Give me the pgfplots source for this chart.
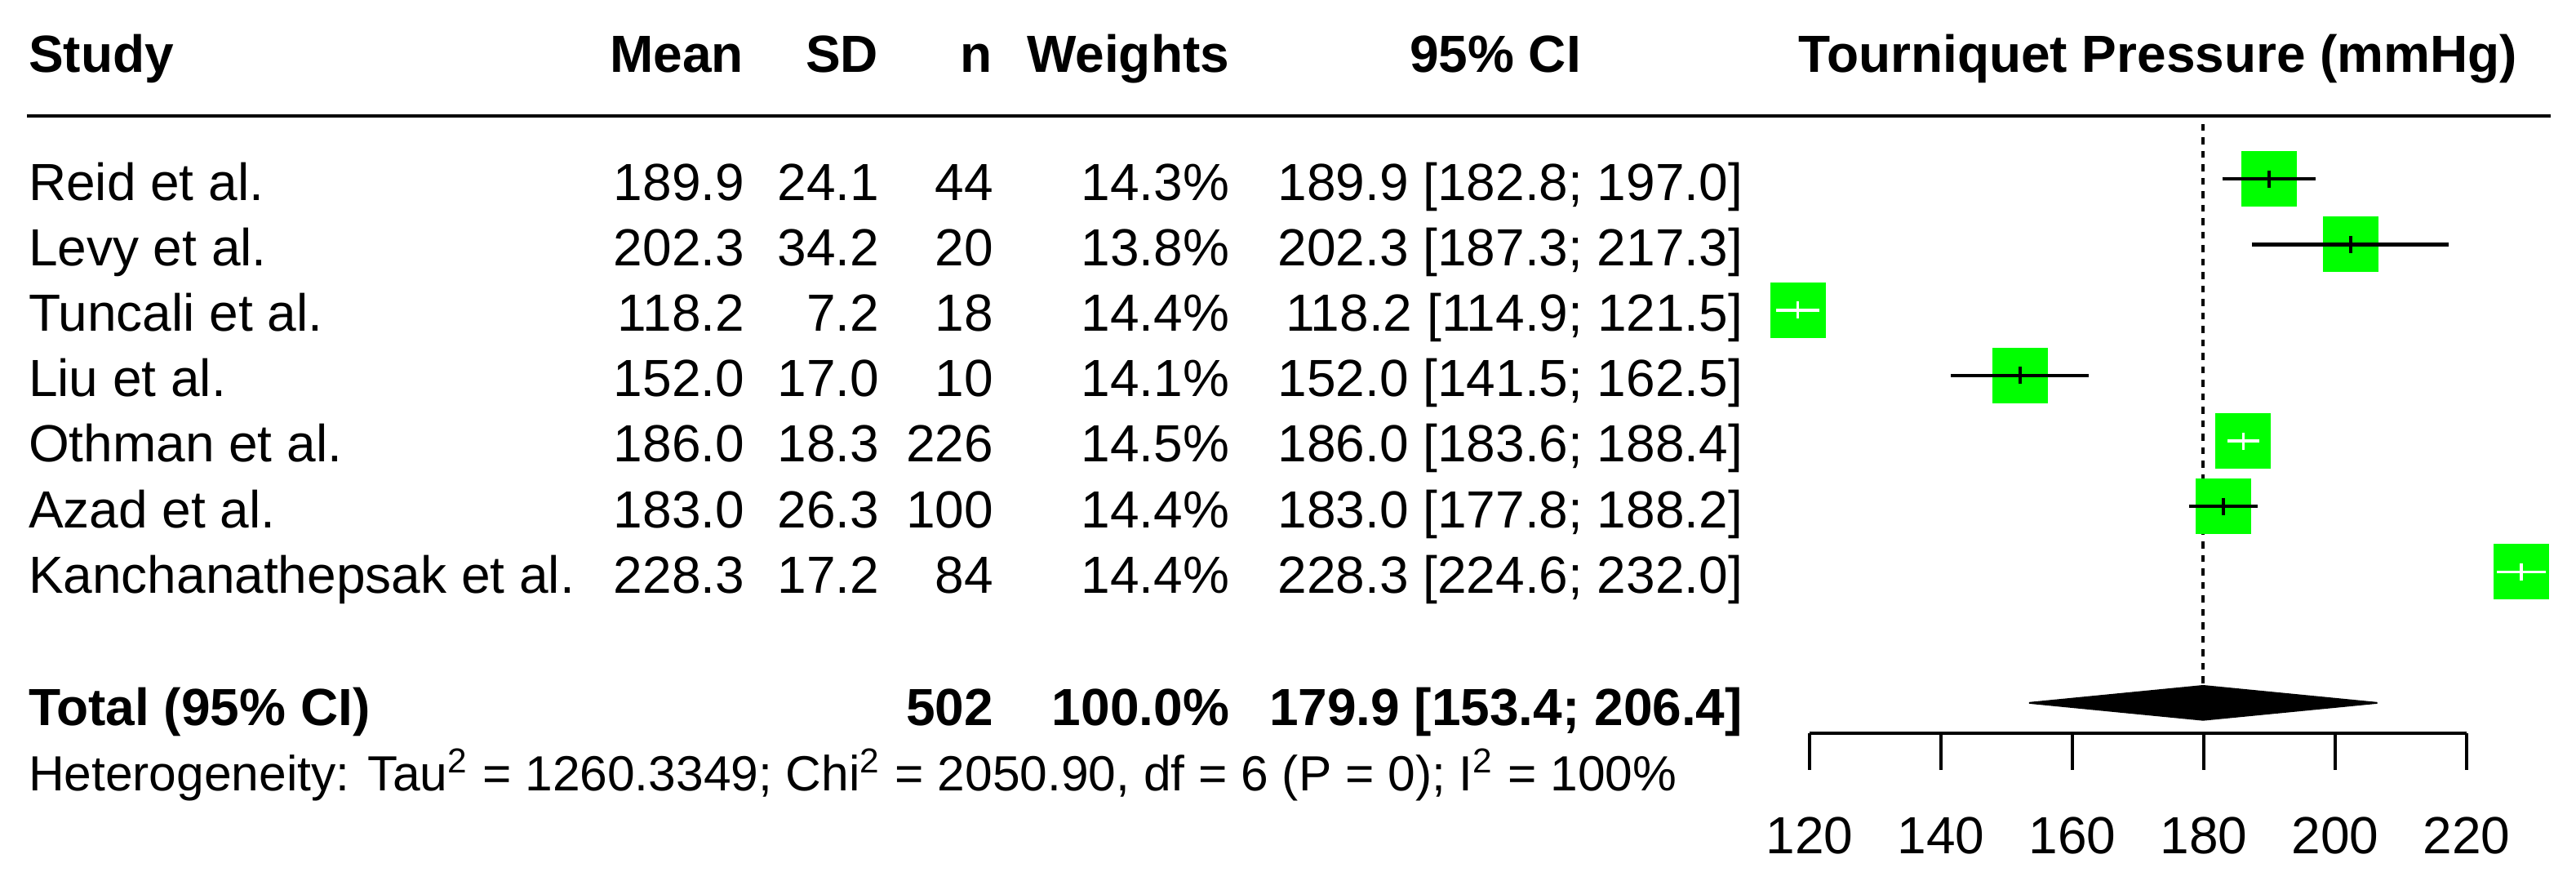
\documentclass[border=0pt]{standalone}
\usepackage{fontspec}
\setmainfont{Liberation Sans}
\usepackage{pgfplots}
\pgfplotsset{compat=1.18}
\definecolor{rgreen}{RGB}{0,255,0}
\newcommand{\fs}{\fontsize{12.8}{15}\selectfont}
\newcommand{\fsh}{\fontsize{12.1}{14}\selectfont}
\begin{document}
\begin{tikzpicture}
\path[use as bounding box] (0,0) rectangle (631.2pt,-217.8pt);
\begin{scope}[x=0.2pt,y=-0.2pt, every node/.style={inner sep=0pt, font=\fs}]
\draw[line width=0.8pt] (33,142) -- (3125,142);
% header
\node[anchor=base west, font=\fs\bfseries] at (34,88) {Study};
\node[anchor=base east, font=\fs\bfseries] at (912,88) {Mean};
\node[anchor=base east, font=\fs\bfseries] at (1077,88) {SD};
\node[anchor=base east, font=\fs\bfseries] at (1217,88) {n};
\node[anchor=base east, font=\fs\bfseries] at (1507,88) {Weights};
\node[anchor=base, font=\fs\bfseries] at (1832,88) {95\% CI};
\node[anchor=base, font=\fs\bfseries] at (2644,88) {Tourniquet Pressure (mmHg)};
% rows
\foreach \y/\s/\m/\sd/\n/\w/\ci in {
245/Reid et al./189.9/24.1/44/14.3/{189.9 [182.8; 197.0]},
325.2/Levy et al./202.3/34.2/20/13.8/{202.3 [187.3; 217.3]},
405.4/Tuncali et al./118.2/7.2/18/14.4/{118.2 [114.9; 121.5]},
485.6/Liu et al./152.0/17.0/10/14.1/{152.0 [141.5; 162.5]},
565.8/Othman et al./186.0/18.3/226/14.5/{186.0 [183.6; 188.4]},
646/Azad et al./183.0/26.3/100/14.4/{183.0 [177.8; 188.2]},
726.2/Kanchanathepsak et al./228.3/17.2/84/14.4/{228.3 [224.6; 232.0]}}{
\node[anchor=base west] at (34,\y) {\s};
\node[anchor=base east] at (913,\y) {\m};
\node[anchor=base east] at (1078,\y) {\sd};
\node[anchor=base east] at (1218,\y) {\n};
\node[anchor=base east] at (1507,\y) {\w\%};
\node[anchor=base east] at (2136,\y) {\ci};
}
% total
\node[anchor=base west, font=\fs\bfseries] at (34,888) {Total (95\% CI)};
\node[anchor=base east, font=\fs\bfseries] at (1218,888) {502};
\node[anchor=base east, font=\fs\bfseries] at (1507,888) {100.0\%};
\node[anchor=base east, font=\fs\bfseries] at (2136,888) {179.9 [153.4; 206.4]};
\node[anchor=base west, font=\fsh] at (34,968) {Heterogeneity: Tau\textsuperscript{2} = 1260.3349; Chi\textsuperscript{2} = 2050.90, df = 6 (P = 0); I\textsuperscript{2} = 100\%};
\end{scope}
\begin{axis}[
  at={(443.4pt,-27.8pt)}, anchor=north west,
  x=1.61pt, y=16.04pt,
  xmin=120, xmax=220, ymin=-9.46, ymax=0,
  axis x line=bottom, axis y line=none,
  x axis line style={-, line width=0.8pt},
  xtick={120,140,160,180,200,220},
  ytick=\empty,
  tick align=outside, major tick length=9pt,
  xtick style={line width=0.8pt, black},
  xticklabel style={font=\fs, anchor=north, inner sep=0pt},
  xticklabel shift=11.5pt,
  /pgf/number format/assume math mode=true,
  clip=false,
  clip marker paths=true,
]
% reference line at pooled estimate
\addplot[black, line width=0.75pt, dash pattern=on 1.7pt off 1.6pt] coordinates {(179.9,-0.16) (179.9,-9)};
% study squares
\addplot[only marks, mark=square*, mark size=6.7pt, mark options={solid, fill=rgreen, draw=rgreen, line width=0pt}] coordinates {
(189.9,-1) (202.3,-2) (118.2,-3) (152.0,-4) (186.0,-5) (183.0,-6) (228.3,-7)};
% confidence intervals (black: reaching beyond the square)
\addplot[black, line width=0.85pt] coordinates {(182.8,-1) (197.0,-1)};
\addplot[black, line width=0.85pt] coordinates {(187.3,-2) (217.3,-2)};
\addplot[black, line width=0.85pt] coordinates {(141.5,-4) (162.5,-4)};
\addplot[black, line width=0.85pt] coordinates {(177.8,-6) (188.2,-6)};
% confidence intervals inside the square (white)
\addplot[white, line width=0.75pt] coordinates {(114.9,-3) (121.5,-3)};
\addplot[white, line width=0.75pt] coordinates {(183.6,-5) (188.4,-5)};
\addplot[white, line width=0.75pt] coordinates {(224.6,-7) (232.0,-7)};
% estimate ticks
\addplot[only marks, mark=|, mark size=2.1pt, black, mark options={solid, line width=0.8pt}] coordinates {(189.9,-1) (202.3,-2) (152.0,-4) (183.0,-6)};
\addplot[only marks, mark=|, mark size=2.1pt, white, mark options={solid, line width=0.7pt}] coordinates {(118.2,-3) (186.0,-5) (228.3,-7)};
% pooled diamond
\addplot[fill=black, draw=black, line width=0.4pt] coordinates {(153.4,-9) (179.9,-8.74) (206.4,-9) (179.9,-9.26) (153.4,-9)};
\end{axis}
\end{tikzpicture}
\end{document}
